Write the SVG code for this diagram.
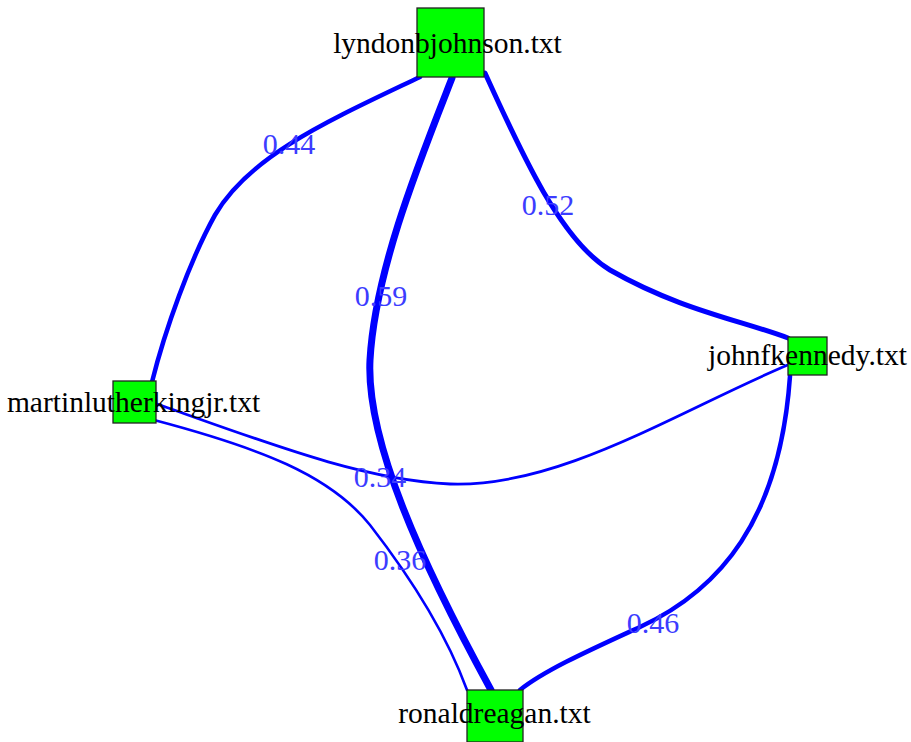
<svg xmlns="http://www.w3.org/2000/svg" width="911" height="742" viewBox="0 0 911 742">
<style>
.e{fill:none;stroke:#0000ff;stroke-linecap:round;stroke-linejoin:round}
.el{font-family:"Liberation Serif","Times New Roman",serif;font-size:30px;fill:#3c3cff;text-anchor:middle}
.box{fill:#00ff00;stroke:#222;stroke-width:1.3}
.nl{font-family:"Liberation Serif","Times New Roman",serif;font-size:29.5px;fill:#000;text-anchor:middle}
</style>
<rect width="911" height="742" fill="#fff"/>
<g id="connectors">
<path class="e" style="stroke-width:4.5" d="M420,77 C330,120 250,155 215,215 C190,260 165,330 152,382"/>
<path class="e" style="stroke-width:5" d="M485,73 C520,150 560,240 610,270 C680,310 740,320 788,338"/>
<path class="e" style="stroke-width:7" d="M452,78 C420,160 375,270 370,360 C366,440 420,560 491,690"/>
<path class="e" style="stroke-width:2.8" d="M154,403 C260,440 360,480 450,484 C560,488 680,410 790,364"/>
<path class="e" style="stroke-width:2.6" d="M154,420 C260,448 330,475 370,525 C405,570 445,630 467,690"/>
<path class="e" style="stroke-width:4.5" d="M790,376 C780,520 720,590 640,627 C590,650 545,670 520,690"/>
<text class="el" x="289" y="154">0.44</text>
<text class="el" x="548" y="215">0.52</text>
<text class="el" x="381" y="306">0.59</text>
<text class="el" x="380" y="487">0.34</text>
<text class="el" x="400" y="570">0.36</text>
<text class="el" x="653" y="633">0.46</text>
</g>
<g id="lyndonbjohnson">
<rect class="box" x="417" y="8" width="67" height="69"/>
<text class="nl" x="447.5" y="53">lyndonbjohnson.txt</text>
</g>
<g id="martinlutherkingjr">
<rect class="box" x="113" y="381" width="43" height="42"/>
<text class="nl" x="133.5" y="412">martinlutherkingjr.txt</text>
</g>
<g id="johnfkennedy">
<rect class="box" x="788" y="337" width="39" height="38"/>
<text class="nl" x="807.5" y="365">johnfkennedy.txt</text>
</g>
<g id="ronaldreagan">
<rect class="box" x="467" y="690" width="56" height="52"/>
<text class="nl" x="494.5" y="723">ronaldreagan.txt</text>
</g>
</svg>
